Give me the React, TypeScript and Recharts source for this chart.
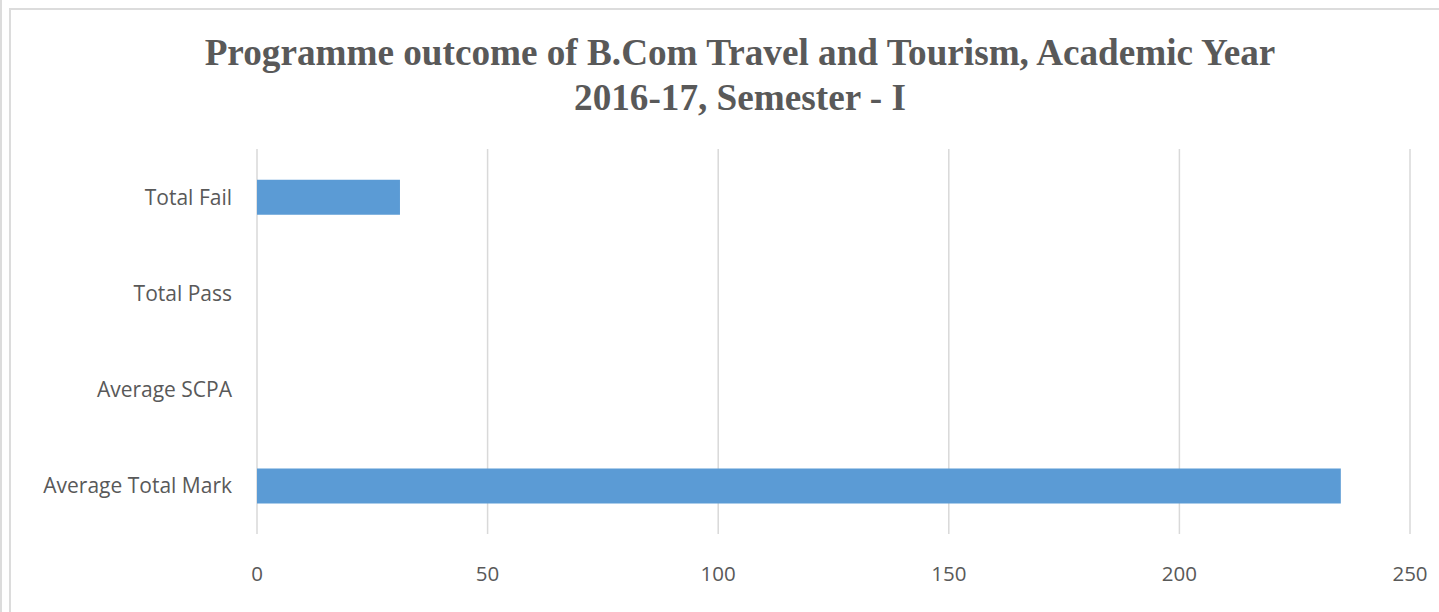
import React from "react";
import { BarChart, Bar, XAxis, YAxis, CartesianGrid } from "recharts";

const categories = ["Total Fail", "Total Pass", "Average SCPA", "Average Total Mark"];
const values = [31, 0, 0, 235];
const xTicks = [0, 50, 100, 150, 200, 250];

const data = categories.map((name, i) => ({ name, value: values[i] }));

export default function App() {
  return (
    <div style={{ position: "absolute", left: 0, top: 0, width: 1439, height: 612, background: "#fff", overflow: "hidden" }}>
      <div style={{ position: "absolute", left: 0, top: 0, width: 2, height: 612, background: "#dcdcdc" }} />
      <div style={{ position: "absolute", left: 9, top: 8, width: 1500, height: 700, borderLeft: "2px solid #dcdcdc", borderTop: "2px solid #dcdcdc", boxSizing: "border-box" }} />
      <div style={{ position: "absolute", left: 0, top: 30, width: 1480, textAlign: "center", fontFamily: "'Liberation Serif', 'Times New Roman', serif", fontWeight: "bold", fontSize: 37.2, lineHeight: "45px", color: "#595959" }}>
        Programme outcome of B.Com Travel and Tourism, Academic Year
        <br />
        2016-17, Semester - I
      </div>
      <div style={{ position: "absolute", left: 0, top: 0 }}>
        <BarChart
          width={1439}
          height={612}
          data={data}
          layout="vertical"
          margin={{ top: 149, right: 29, bottom: 38, left: 0 }}
          barCategoryGap="32%"
        >
          <CartesianGrid horizontal={false} stroke="#d9d9d9" strokeWidth={1.5} />
          <XAxis
            type="number"
            domain={[0, 250]}
            ticks={xTicks}
            axisLine={false}
            tickLine={false}
            height={40}
            tickMargin={26}
            tick={{ fill: "#595959", fontSize: 20.5, fontFamily: "'Open Sans', sans-serif" }}
          />
          <YAxis
            type="category"
            dataKey="name"
            width={257}
            axisLine={false}
            tickLine={false}
            tickMargin={19}
            tick={{ fill: "#595959", fontSize: 21, fontFamily: "'Open Sans', sans-serif" }}
          />
          <Bar dataKey="value" fill="#5b9bd5" isAnimationActive={false} />
        </BarChart>
      </div>
    </div>
  );
}
